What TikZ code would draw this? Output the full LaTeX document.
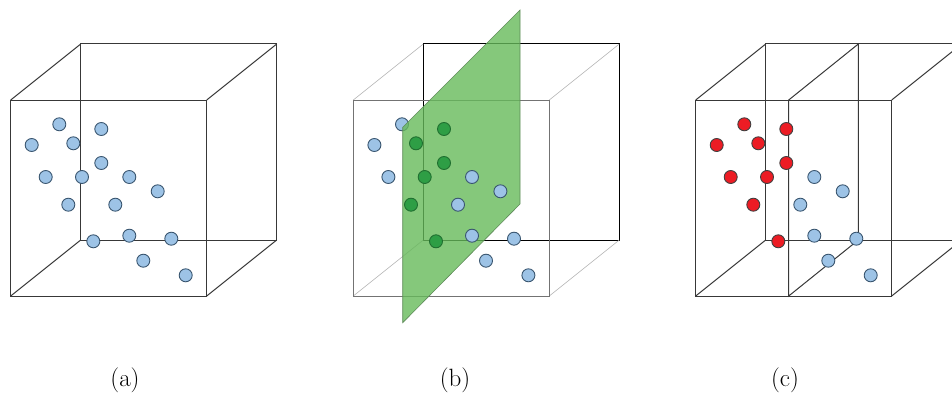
\documentclass[tikz,border=0pt]{standalone}
\usepackage{tikz}
\usetikzlibrary{calc}
\usepackage{xcolor}
\definecolor{dotblue}{HTML}{9DC3E6}
\definecolor{dotedge}{HTML}{3A5670}
\definecolor{dotred}{HTML}{EC1C24}
\definecolor{dotgreen}{HTML}{2E9E45}
\definecolor{planegreen}{HTML}{66BA5A}
\definecolor{planeedge}{HTML}{5E8A58}
\definecolor{boxgray}{HTML}{383838}

\tikzset{
  pt/.style={circle, draw=dotedge, line width=0.9pt, minimum size=13pt, inner sep=0pt},
  bluept/.style={pt, fill=dotblue},
  redpt/.style={pt, fill=dotred, draw=black!75},
  greenpt/.style={pt, fill=dotgreen, draw=dotgreen!70!black},
  boxline/.style={draw=boxgray, line width=1pt},
  frontline/.style={draw=black!55, line width=1pt},
  depthline/.style={draw=black!30, line width=0.6pt},
  backline/.style={draw=black, line width=1pt},
  caption/.style={font=\fontsize{25}{30}\selectfont}
}

\begin{document}
\begin{tikzpicture}[x=1pt, y=-1pt]
      \useasboundingbox (0,0) rectangle (952,396);
      \foreach \p/\ox in {a/10.7, b/353.3, c/695.7}{
        \coordinate (\p-fbl) at (\ox,296);
        \coordinate (\p-fbr) at (\ox+196,296);
        \coordinate (\p-ftr) at (\ox+196,100);
        \coordinate (\p-ftl) at (\ox,100);
        \coordinate (\p-bbl) at (\ox+70,240);
        \coordinate (\p-bbr) at (\ox+266,240);
        \coordinate (\p-btr) at (\ox+266,44);
        \coordinate (\p-btl) at (\ox+70,44);
      }
      \foreach \p in {a,c}{
        \draw[boxline] (\p-fbl) rectangle (\p-ftr);
        \draw[boxline] (\p-bbl) rectangle (\p-btr);
        \foreach \k in {bl,br,tr,tl}
          \draw[boxline] (\p-f\k) -- (\p-b\k);
      }
      \draw[backline] (b-bbl) rectangle (b-btr);
      \foreach \k in {bl,br,tr,tl}
        \draw[depthline] (b-f\k) -- (b-b\k);
      \draw[frontline] (b-fbl) rectangle (b-ftr);
      \coordinate (c-sft) at (788.7,100);
      \coordinate (c-sfb) at (788.7,296);
      \coordinate (c-sbt) at (858.3,44);
      \coordinate (c-sbb) at (858.3,240);
      \draw[boxline] (c-sfb) -- (c-sft) -- (c-sbt) -- (c-sbb) -- cycle;
      \foreach \x/\y/\sc [count=\i] in {
          59.3/124.3/red, 101.3/129/red, 31.7/145/red,
          73.3/143.3/red, 101.3/163/red, 45.7/177/red,
          82/177/red, 129.3/177/blue, 157.7/191.3/blue,
          68.3/204.7/red, 115.3/204.7/blue, 93.3/241.3/red,
          129.3/235.7/blue, 171.3/238.7/blue, 143.3/260.7/blue,
          185.7/275.3/blue}{
        \node[bluept] (a\i) at (\x,\y) {};
        \node[\sc pt] (c\i) at (\x+685,\y) {};
      }
      \node[bluept] (b1) at (402,124.3) {};
      \coordinate (p1) at (402.7,322.7);
      \coordinate (p2) at (520,204);
      \coordinate (p3) at (520,10);
      \coordinate (p4) at (402.7,127.3);
      \filldraw[fill=planegreen, fill opacity=0.8, draw=planeedge, line width=0.6pt]
        (p1) -- (p2) -- (p3) -- (p4) -- cycle;
      \foreach \x/\y [count=\i from 2] in {31.7/145, 45.7/177, 129.3/177,
          157.7/191.3, 115.3/204.7, 129.3/235.7, 171.3/238.7, 143.3/260.7, 185.7/275.3}
        \node[bluept] (b\i) at (\x+342.7,\y) {};
      \foreach \x/\y [count=\i] in {101.3/129, 73.3/143.3, 101.3/163, 82/177,
          68.3/204.7, 93.3/241.3}
        \node[greenpt] (g\i) at (\x+342.7,\y) {};
      \node[caption] (cap-a) at (125,380) {(a)};
      \node[caption] (cap-b) at (455,380) {(b)};
      \node[caption] (cap-c) at (785,380) {(c)};
    \end{tikzpicture}
\end{document}
